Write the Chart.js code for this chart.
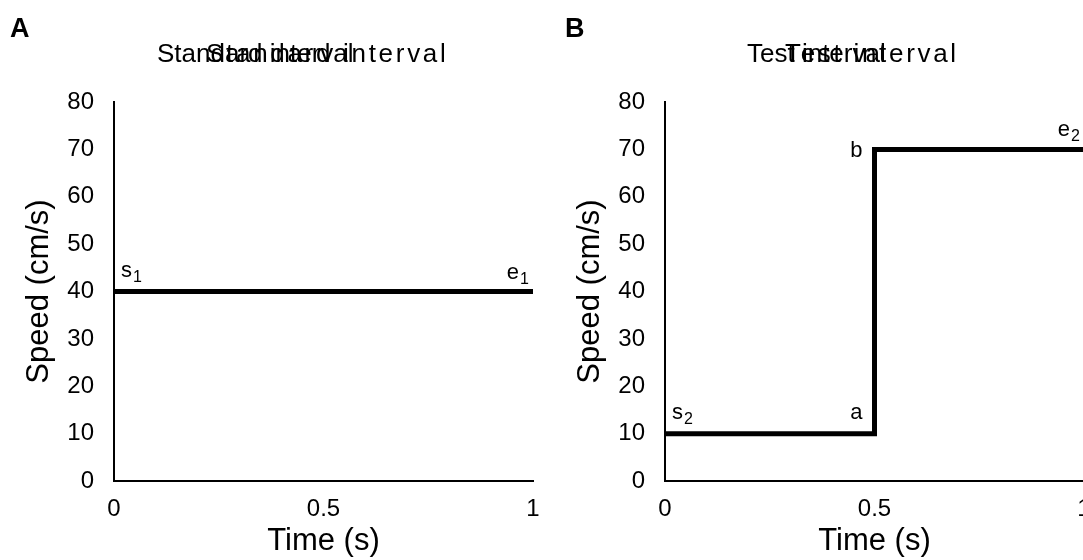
<!DOCTYPE html>
<html>
<head>
<meta charset="utf-8">
<script src="https://cdn.jsdelivr.net/npm/chart.js@4/dist/chart.umd.min.js"></script>
<style>
html, body { margin: 0; padding: 0; background: #fff; overflow: hidden; width: 1083px; height: 560px; }
canvas { position: absolute; top: 0; }
#chartA { left: 0; }
#chartB { left: 551px; }
</style>
</head>
<body>
<canvas id="chartA" width="545" height="560"></canvas>
<canvas id="chartB" width="545" height="560"></canvas>
<script>
// data
const xTicks = [0, 0.5, 1];
const yTicks = [0, 10, 20, 30, 40, 50, 60, 70, 80];

const standardTime = [0, 1];
const standardSpeed = [40, 40];

const testTime = [0, 0.5, 0.5, 1];
const testSpeed = [10, 10, 70, 70];

// point names (letter, subscript, where it sits)
const standardMarks = [
    { text: "s", sub: "1", x: 0, y: 40, place: "ne" },
    { text: "e", sub: "1", x: 1, y: 40, place: "nw" }
];
const testMarks = [
    { text: "s", sub: "2", x: 0, y: 10, place: "ne" },
    { text: "a", sub: "", x: 0.5, y: 10, place: "wn" },
    { text: "b", sub: "", x: 0.5, y: 70, place: "w" },
    { text: "e", sub: "2", x: 1, y: 70, place: "nw" }
];

const FONT = '"Liberation Sans", Arial, Helvetica, sans-serif';
Chart.defaults.color = "#000";
Chart.defaults.font.family = FONT;

// letters like s1, e2, a, b next to the line
const markLabels = {
    id: "markLabels",
    afterDatasetsDraw(chart, args, opts) {
        const ctx = chart.ctx;
        const xs = chart.scales.x, ys = chart.scales.y;
        ctx.save();
        ctx.fillStyle = "#000";
        ctx.textBaseline = "alphabetic";
        ctx.textAlign = "left";
        opts.items.forEach((m) => {
            const px = xs.getPixelForValue(m.x);
            const py = ys.getPixelForValue(m.y);
            ctx.font = "22px " + FONT;
            const w1 = ctx.measureText(m.text).width;
            ctx.font = "16px " + FONT;
            const w2 = m.sub ? ctx.measureText(m.sub).width + 1 : 0;
            let x, y;
            if (m.place == "ne") { x = px + 7; y = py - 15; }
            else if (m.place == "nw") { x = px - 4 - w1 - w2; y = py - 13; }
            else if (m.place == "wn") { x = px - 12 - w1 - w2; y = py - 15; }
            else { x = px - 12 - w1 - w2; y = py + 8; }
            ctx.font = "22px " + FONT;
            ctx.fillText(m.text, x, y);
            if (m.sub) {
                ctx.font = "16px " + FONT;
                ctx.fillText(m.sub, x + w1 + 1, y + 5);
            }
        });
        ctx.restore();
    }
};

// panel letter + the doubled title
const panelHead = {
    id: "panelHead",
    afterDraw(chart, args, o) {
        const ctx = chart.ctx;
        ctx.save();
        ctx.fillStyle = "#000";
        ctx.textBaseline = "alphabetic";
        ctx.textAlign = "left";
        ctx.font = "bold 27px " + FONT;
        ctx.fillText(o.letter, o.letterX, 37);
        ctx.font = "26px " + FONT;
        ctx.fillText(o.text, o.x1, 62);
        ctx.letterSpacing = "2.7px";
        ctx.fillText(o.text, o.x2, 62);
        ctx.letterSpacing = "0px";
        ctx.restore();
    }
};

function makeChart(id, times, speeds, marks, head) {
    let pts = times.map((t, i) => ({ x: t, y: speeds[i] }));
    return new Chart(document.getElementById(id), {
        type: "scatter",
        data: {
            datasets: [{
                data: pts,
                showLine: true,
                borderColor: "#000",
                backgroundColor: "#000",
                borderWidth: 5,
                borderJoinStyle: "miter",
                pointRadius: 0,
                tension: 0,
                fill: false
            }]
        },
        options: {
            responsive: false,
            animation: false,
            devicePixelRatio: 1,
            layout: { padding: { top: 102, right: 12, left: 0, bottom: 0 } },
            plugins: {
                legend: { display: false },
                tooltip: { enabled: false },
                markLabels: { items: marks },
                panelHead: head
            },
            scales: {
                x: {
                    type: "linear",
                    min: 0,
                    max: 1,
                    afterBuildTicks: (s) => { s.ticks = xTicks.map((v) => ({ value: v })); },
                    afterFit: (s) => { s.height = 79; s.paddingLeft = 0; s.paddingRight = 0; },
                    grid: { display: false, drawTicks: false },
                    border: { display: true, color: "#000", width: 2 },
                    ticks: { color: "#000", font: { size: 24 }, padding: 14, maxRotation: 0, autoSkip: false,
                        callback: (v) => String(v) },
                    title: { display: true, text: "Time (s)", color: "#000", font: { size: 31 }, padding: { top: 0, bottom: 0 } }
                },
                y: {
                    min: 0,
                    max: 80,
                    afterBuildTicks: (s) => { s.ticks = yTicks.map((v) => ({ value: v })); },
                    afterFit: (s) => { s.width = 114; },
                    grid: { display: false, drawTicks: false },
                    border: { display: true, color: "#000", width: 2 },
                    ticks: { color: "#000", font: { size: 24 }, padding: 20, autoSkip: false },
                    title: { display: true, text: "Speed (cm/s)", color: "#000", font: { size: 31 }, padding: { top: 21, bottom: 0 } }
                }
            }
        },
        plugins: [markLabels, panelHead]
    });
}

let chartA = makeChart("chartA", standardTime, standardSpeed, standardMarks,
    { letter: "A", letterX: 10, text: "Standard interval", x1: 157, x2: 206 });
let chartB = makeChart("chartB", testTime, testSpeed, testMarks,
    { letter: "B", letterX: 14, text: "Test interval", x1: 196, x2: 234 });
</script>
</body>
</html>
